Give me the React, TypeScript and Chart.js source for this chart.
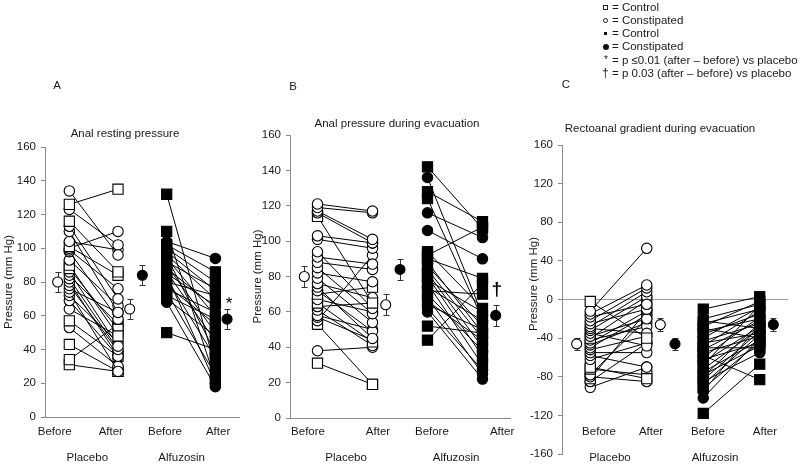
import React, { useEffect, useRef } from 'react';
import { Chart, registerables } from 'chart.js';
Chart.register(...registerables);

const FONT = "'Liberation Sans', Arial, Helvetica, sans-serif";
const INK = '#1a1a1a';
const AXIS = '#8a8a8a';

// ---------- labels ----------
const timeLabels = ['Before', 'After', 'Before', 'After'];
const groupLabels = ['Placebo', 'Alfuzosin'];
const yTitle = 'Pressure (mm Hg)';

// ---------- Panel A: Anal resting pressure ----------
const restPlaceboBefore = [134, 126, 123, 116, 113, 110, 104, 101, 100, 99, 98, 93, 90, 88, 86, 84, 82, 80, 78, 76, 74, 72, 69, 64, 57, 53, 43, 34, 31];
const restPlaceboAfter = [96, 135, 102, 86, 70, 62, 99, 84, 110, 76, 58, 66, 48, 52, 42, 55, 40, 36, 39, 62, 27, 44, 36, 48, 36, 30, 27, 55, 27];
const restPlaceboType = 'c s c s c c c s c c c c s s c c c c c c c c c c s c s s s'.split(' ');
const restAlfuBefore = [132, 110, 104, 102, 100, 98, 96, 95, 94, 92, 90, 88, 86, 85, 84, 82, 80, 78, 76, 74, 72, 70, 68, 50];
const restAlfuAfter = [30, 22, 94, 86, 80, 75, 70, 38, 60, 76, 50, 65, 45, 66, 20, 35, 72, 55, 62, 25, 58, 48, 18, 40];
const restAlfuType = 's s c s s c s s c s s c s c c s c s c s s c c s'.split(' ');
const restMeans = [80, 64, 84, 58];
const restSems = [6, 6, 6, 6];

// ---------- Panel B: Anal pressure during evacuation ----------
const evacPlaceboBefore = [121, 119, 117, 116, 114, 103, 101, 94, 91, 88, 85, 82, 79, 76, 74, 72, 70, 67, 65, 63, 61, 58, 57, 55, 53, 38, 31];
const evacPlaceboAfter = [117, 116, 101, 99, 65, 99, 96, 62, 87, 84, 59, 77, 54, 68, 45, 49, 74, 60, 43, 65, 41, 50, 44, 92, 19, 40, 19];
const evacPlaceboType = 'c c c c s c c c c c c c c c c c s c s c c c c c s c s'.split(' ');
const evacAlfuBefore = [142, 136, 128, 124, 116, 106, 94, 92, 90, 88, 86, 84, 82, 80, 78, 76, 74, 72, 70, 68, 66, 64, 62, 60, 52, 44];
const evacAlfuAfter = [107, 58, 111, 56, 102, 90, 62, 108, 79, 48, 52, 45, 40, 35, 60, 30, 55, 70, 38, 25, 44, 50, 27, 22, 48, 76];
const evacAlfuType = 's c s s c c s s s c s c s s c s c s c c s c c c s s'.split(' ');
const evacMeans = [80, 64, 84, 58];
const evacSems = [6, 6, 6, 6];

// ---------- Panel C: Rectoanal gradient during evacuation ----------
const gradPlaceboBefore = [-2, -12, -15, -18, -22, -25, -28, -30, -32, -35, -38, -40, -42, -45, -47, -50, -52, -55, -58, -62, -70, -72, -78, -80, -82, -85, -91];
const gradPlaceboAfter = [-40, 53, 15, -5, 12, -10, 8, -35, 3, -48, -20, -1, -28, -12, -24, -16, -38, -55, -70, -45, -82, -78, -20, -85, -12, -45, -70];
const gradPlaceboType = 's c c c c c c c c c c s c c c c c c c c s s c c s c c'.split(' ');
const gradAlfuBefore = [-10, -20, -22, -25, -28, -30, -33, -36, -40, -43, -45, -48, -50, -52, -55, -58, -60, -62, -65, -68, -72, -75, -78, -80, -83, -85, -88, -92, -95, -102, -118];
const gradAlfuAfter = [3, -5, -30, -10, -2, -40, -20, -15, -8, -25, -35, -12, -50, -22, -38, -83, -18, -45, -28, -6, -30, -42, -48, -24, -33, -55, -36, -44, -26, -40, -67];
const gradAlfuType = 's c s c s c s s c s c s s c s s c s c s s c s c s c s s c c s'.split(' ');
const gradMeans = [-46, -26, -46, -26];
const gradSems = [6.5, 6.5, 6.5, 6.5];

// ---------- legend ----------
const legendTexts = [
  '= Control',
  '= Constipated',
  '= Control',
  '= Constipated',
  '= p \u22640.01 (after \u2013 before) vs placebo',
  '= p 0.03 (after \u2013 before) vs placebo',
];

// category slots on a 0..10 linear x scale
const SLOT = { plMeanB: 0.65, plB: 1.25, plA: 3.75, plMeanA: 4.35, alMeanB: 5.0, alB: 6.25, alA: 8.75, alMeanA: 9.35 };
const meanSlots = [SLOT.plMeanB, SLOT.plMeanA, SLOT.alMeanB, SLOT.alMeanA];

type Group = { before: number[]; after: number[]; type: string[] };
type Spec = {
  left: number; width: number; padTop: number; padRight: number;
  yAxisWidth: number; xAxisHeight: number;
  yMin: number; yMax: number; yStep: number;
  xBorder: boolean; zeroLine: boolean;
  placebo: Group; alfu: Group; means: number[]; sems: number[];
  timePos: number[]; groupPos: number[]; yTitleX: number; yTitleY?: number;
  sig?: { text: string; value: number; font: string; dx: number };
};

const specs: Spec[] = [
  {
    left: 0, width: 248, padTop: 147, padRight: 5, yAxisWidth: 45, xAxisHeight: 51,
    yMin: 0, yMax: 160, yStep: 20, xBorder: true, zeroLine: false,
    placebo: { before: restPlaceboBefore, after: restPlaceboAfter, type: restPlaceboType },
    alfu: { before: restAlfuBefore, after: restAlfuAfter, type: restAlfuType },
    means: restMeans, sems: restSems,
    timePos: [0.5, 3.38, 6.16, 8.89], groupPos: [2.17, 7.02], yTitleX: 9,
    sig: { text: '*', value: 72, font: `17px ${FONT}`, dx: 2 },
  },
  {
    left: 248, width: 282, padTop: 135, padRight: 20, yAxisWidth: 42, xAxisHeight: 50,
    yMin: 0, yMax: 160, yStep: 20, xBorder: true, zeroLine: false,
    placebo: { before: evacPlaceboBefore, after: evacPlaceboAfter, type: evacPlaceboType },
    alfu: { before: evacAlfuBefore, after: evacAlfuAfter, type: evacAlfuType },
    means: evacMeans, sems: evacSems,
    timePos: [0.82, 4.0, 6.45, 9.64], groupPos: [2.55, 7.55], yTitleX: 10,
    sig: { text: '\u2020', value: 78, font: `bold 19px ${FONT}`, dx: 1 },
  },
  {
    left: 524, width: 276, padTop: 145, padRight: 12, yAxisWidth: 38, xAxisHeight: 14,
    yMin: -160, yMax: 160, yStep: 40, xBorder: false, zeroLine: true,
    placebo: { before: gradPlaceboBefore, after: gradPlaceboAfter, type: gradPlaceboType },
    alfu: { before: gradAlfuBefore, after: gradAlfuAfter, type: gradAlfuType },
    means: gradMeans, sems: gradSems,
    timePos: [1.64, 3.94, 6.46, 8.98], groupPos: [2.12, 6.77], yTitleX: 10, yTitleY: 284,
  },
];

const titles = [
  { letter: 'A', lx: 57, ly: 85, text: 'Anal resting pressure', tx: 125, ty: 133 },
  { letter: 'B', lx: 293, ly: 86, text: 'Anal pressure during evacuation', tx: 397, ty: 123 },
  { letter: 'C', lx: 566, ly: 84, text: 'Rectoanal gradient during evacuation', tx: 660, ty: 128 },
];

function pairDatasets(g: Group, filled: boolean) {
  const xB = filled ? SLOT.alB : SLOT.plB;
  const xA = filled ? SLOT.alA : SLOT.plA;
  return g.before.map((b, i) => {
    const sq = g.type[i] === 's';
    return {
      data: [{ x: xB, y: b }, { x: xA, y: g.after[i] }],
      showLine: true,
      borderColor: '#000',
      borderWidth: 1,
      pointStyle: sq ? 'rect' : 'circle',
      pointRadius: sq ? 7.2 : 5.2,
      pointBackgroundColor: filled ? '#000' : '#fff',
      pointBorderColor: '#000',
      pointBorderWidth: 1.1,
    };
  });
}

function Panel({ spec }: { spec: Spec }) {
  const ref = useRef<HTMLCanvasElement>(null);
  useEffect(() => {
    const canvas = ref.current!;
    const decor = {
      id: 'decor',
      beforeDatasetsDraw(chart: any) {
        const { ctx } = chart;
        const xs = chart.scales.x, ys = chart.scales.y;
        ctx.save();
        ctx.strokeStyle = '#333';
        ctx.lineWidth = 1;
        spec.means.forEach((m, i) => {
          const x = Math.round(xs.getPixelForValue(meanSlots[i])) + 0.5;
          const yT = Math.round(ys.getPixelForValue(m + spec.sems[i])) + 0.5;
          const yB = Math.round(ys.getPixelForValue(m - spec.sems[i])) + 0.5;
          ctx.beginPath();
          ctx.moveTo(x, yT); ctx.lineTo(x, yB);
          ctx.moveTo(x - 3, yT); ctx.lineTo(x + 3, yT);
          ctx.moveTo(x - 3, yB); ctx.lineTo(x + 3, yB);
          ctx.stroke();
        });
        ctx.restore();
      },
      afterDraw(chart: any) {
        const { ctx, chartArea } = chart;
        const xs = chart.scales.x, ys = chart.scales.y;
        ctx.save();
        ctx.fillStyle = INK;
        ctx.font = `11.5px ${FONT}`;
        ctx.textAlign = 'center';
        ctx.textBaseline = 'middle';
        timeLabels.forEach((t, i) => ctx.fillText(t, xs.getPixelForValue(spec.timePos[i]), 432));
        groupLabels.forEach((t, i) => ctx.fillText(t, xs.getPixelForValue(spec.groupPos[i]), 458));
        ctx.save();
        ctx.translate(spec.yTitleX, spec.yTitleY ?? (chartArea.top + chartArea.bottom) / 2);
        ctx.rotate(-Math.PI / 2);
        ctx.fillText(yTitle, 0, 0);
        ctx.restore();
        if (spec.sig) {
          ctx.font = spec.sig.font;
          ctx.textBaseline = 'top';
          ctx.fillStyle = '#000';
          ctx.fillText(spec.sig.text, xs.getPixelForValue(SLOT.alMeanA) + spec.sig.dx, ys.getPixelForValue(spec.sig.value));
        }
        ctx.restore();
      },
    };
    const meanOpen = {
      data: [{ x: SLOT.plMeanB, y: spec.means[0] }, { x: SLOT.plMeanA, y: spec.means[1] }],
      showLine: false, pointStyle: 'circle', pointRadius: 5,
      pointBackgroundColor: '#fff', pointBorderColor: '#000', pointBorderWidth: 1.1,
    };
    const meanFilled = {
      data: [{ x: SLOT.alMeanB, y: spec.means[2] }, { x: SLOT.alMeanA, y: spec.means[3] }],
      showLine: false, pointStyle: 'circle', pointRadius: 5,
      pointBackgroundColor: '#000', pointBorderColor: '#000', pointBorderWidth: 1.1,
    };
    const chart = new Chart(canvas, {
      type: 'scatter',
      data: {
        datasets: [
          meanOpen as any, meanFilled as any,
          ...(pairDatasets(spec.placebo, false) as any[]),
          ...(pairDatasets(spec.alfu, true) as any[]),
        ],
      },
      options: {
        animation: false,
        responsive: false,
        events: [],
        layout: { padding: { top: spec.padTop, right: spec.padRight, left: 0, bottom: 0 } },
        plugins: { legend: { display: false }, tooltip: { enabled: false }, title: { display: false } },
        scales: {
          x: {
            type: 'linear', min: 0, max: 10,
            ticks: { display: false },
            grid: { display: false },
            border: { display: spec.xBorder, color: AXIS, width: 1 },
            afterFit: (s: any) => { s.height = spec.xAxisHeight; },
          },
          y: {
            type: 'linear', min: spec.yMin, max: spec.yMax,
            ticks: { stepSize: spec.yStep, color: INK, font: { family: FONT, size: 11.5 }, padding: 5 },
            grid: {
              display: true,
              drawOnChartArea: spec.zeroLine,
              color: (c: any) => (spec.zeroLine && c.tick && c.tick.value === 0 ? '#9a9a9a' : 'rgba(0,0,0,0)'),
              tickColor: AXIS,
              tickLength: 4,
              lineWidth: 1,
            },
            border: { display: true, color: AXIS, width: 1 },
            afterFit: (s: any) => { s.width = spec.yAxisWidth; },
          },
        },
      },
      plugins: [decor],
    });
    return () => chart.destroy();
  }, []);
  return (
    <canvas
      ref={ref}
      width={spec.width}
      height={468}
      style={{ position: 'absolute', left: spec.left, top: 0, width: spec.width, height: 468 }}
    />
  );
}

function LegendMarker({ i }: { i: number }) {
  const base: React.CSSProperties = { position: 'absolute', boxSizing: 'border-box' };
  if (i === 0) return <div style={{ ...base, left: 603, top: 5, width: 5, height: 5, border: '1px solid #222' }} />;
  if (i === 1) return <div style={{ ...base, left: 603, top: 18, width: 5, height: 5, border: '1px solid #222', borderRadius: '50%' }} />;
  if (i === 2) return <div style={{ ...base, left: 604, top: 32, width: 3, height: 3, background: '#111' }} />;
  if (i === 3) return <div style={{ ...base, left: 602.5, top: 43.5, width: 6, height: 6, background: '#111', borderRadius: '50%' }} />;
  if (i === 4) return <div style={{ ...base, left: 604, top: 54, font: `10px ${FONT}`, color: INK }}>*</div>;
  return <div style={{ ...base, left: 602, top: 66, font: `12px ${FONT}`, color: INK }}>{'\u2020'}</div>;
}

export default function App() {
  const legendY = [7, 20, 33, 46, 60, 73];
  return (
    <div style={{ position: 'fixed', left: 0, top: 0, width: 800, height: 468, background: '#fff', overflow: 'hidden', fontFamily: FONT }}>
      {specs.map((s, i) => <Panel key={i} spec={s} />)}
      {titles.map((t, i) => (
        <React.Fragment key={i}>
          <div style={{ position: 'absolute', left: t.lx - 20, top: t.ly - 8, width: 40, textAlign: 'center', fontSize: 11.5, lineHeight: '16px', color: INK }}>{t.letter}</div>
          <div style={{ position: 'absolute', left: t.tx - 150, top: t.ty - 8, width: 300, textAlign: 'center', fontSize: 11.5, lineHeight: '16px', color: INK }}>{t.text}</div>
        </React.Fragment>
      ))}
      {legendTexts.map((t, i) => (
        <React.Fragment key={i}>
          <LegendMarker i={i} />
          <div style={{ position: 'absolute', left: 612, top: legendY[i] - 7, fontSize: 11.5, lineHeight: '14px', color: INK, whiteSpace: 'nowrap' }}>{t}</div>
        </React.Fragment>
      ))}
    </div>
  );
}
